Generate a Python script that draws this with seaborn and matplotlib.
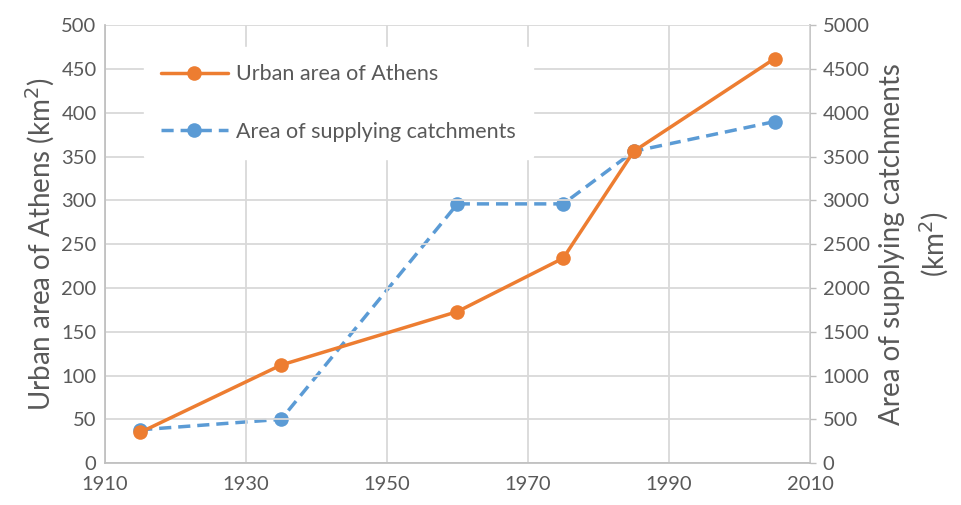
import matplotlib
matplotlib.use("Agg")
import matplotlib.pyplot as plt
import seaborn as sns
import pandas as pd

# ── data ──────────────────────────────────────────────────────────────
years_urban = [1915, 1935, 1960, 1975, 1985, 2005]
urban_area = [35, 112, 173, 234, 356, 462]          # km²

years_catch = [1915, 1935, 1960, 1975, 1985, 2005]
catch_area = [380, 500, 2960, 2960, 3560, 3900]      # km²

x_ticks = [1910, 1930, 1950, 1970, 1990, 2010]
left_ticks = list(range(0, 501, 50))
right_ticks = list(range(0, 5001, 500))

ORANGE = "#ED7D31"
BLUE = "#5B9BD5"
TEXT = "#595959"
GRID = "#d9d9d9"

sns.set_theme(style="white")
plt.rcParams["font.family"] = ["Lato", "DejaVu Sans"]

df_u = pd.DataFrame({"year": years_urban, "area": urban_area})
df_c = pd.DataFrame({"year": years_catch, "area": catch_area})

fig = plt.figure(figsize=(9.62, 5.05), dpi=100)
ax = fig.add_axes([0.109, 0.083, 0.733, 0.867])
ax2 = ax.twinx()

sns.lineplot(data=df_u, x="year", y="area", ax=ax, color=ORANGE, lw=2.5,
             marker="o", markersize=10.5, markeredgewidth=0,
             label="Urban area of Athens", legend=False, zorder=4)
sns.lineplot(data=df_c, x="year", y="area", ax=ax2, color=BLUE, lw=2.5,
             marker="o", markersize=10.5, markeredgewidth=0, linestyle=(0, (3.5, 2)),
             label="Area of supplying catchments", legend=False, zorder=3)

ax.set_xlim(1910, 2010)
ax.set_ylim(0, 500)
ax2.set_ylim(0, 5000)
ax.set_xticks(x_ticks)
ax.set_yticks(left_ticks)
ax2.set_yticks(right_ticks)

ax.grid(True, color=GRID, lw=1.3)
ax.set_axisbelow(True)
ax.set_zorder(ax2.get_zorder() + 1)
ax.patch.set_visible(False)

for a in (ax, ax2):
    for s in a.spines.values():
        s.set_visible(False)
    a.tick_params(labelsize=14.5, colors=TEXT, length=0, pad=6)
for side in ("left", "bottom"):
    ax.spines[side].set_visible(True)
    ax.spines[side].set_color("#bfbfbf")
ax2.spines["right"].set_visible(True)
ax2.spines["right"].set_color("#bfbfbf")
ax2.tick_params(axis="y", length=4, width=1, color="#bfbfbf", pad=5)
ax.tick_params(axis="x", pad=9)

ax.set_xlabel("")
ax.set_ylabel("Urban area of Athens (km$^2$)", fontsize=20, color=TEXT, labelpad=3)
ax2.set_ylabel("Area of supplying catchments\n(km$^2$)", fontsize=20, color=TEXT,
               labelpad=7, linespacing=1.45)

h1, l1 = ax.get_legend_handles_labels()
h2, l2 = ax2.get_legend_handles_labels()
leg = ax.legend(h1 + h2, l1 + l2, loc="upper left", bbox_to_anchor=(0.04, 0.975),
                frameon=True, fontsize=15.5, labelcolor=TEXT, handlelength=3.1,
                labelspacing=1.75, borderpad=0.8, handletextpad=0.4)
leg.get_frame().set_facecolor("white")
leg.get_frame().set_edgecolor("white")
leg.get_frame().set_alpha(1)

fig.savefig("out.png", dpi=100)
